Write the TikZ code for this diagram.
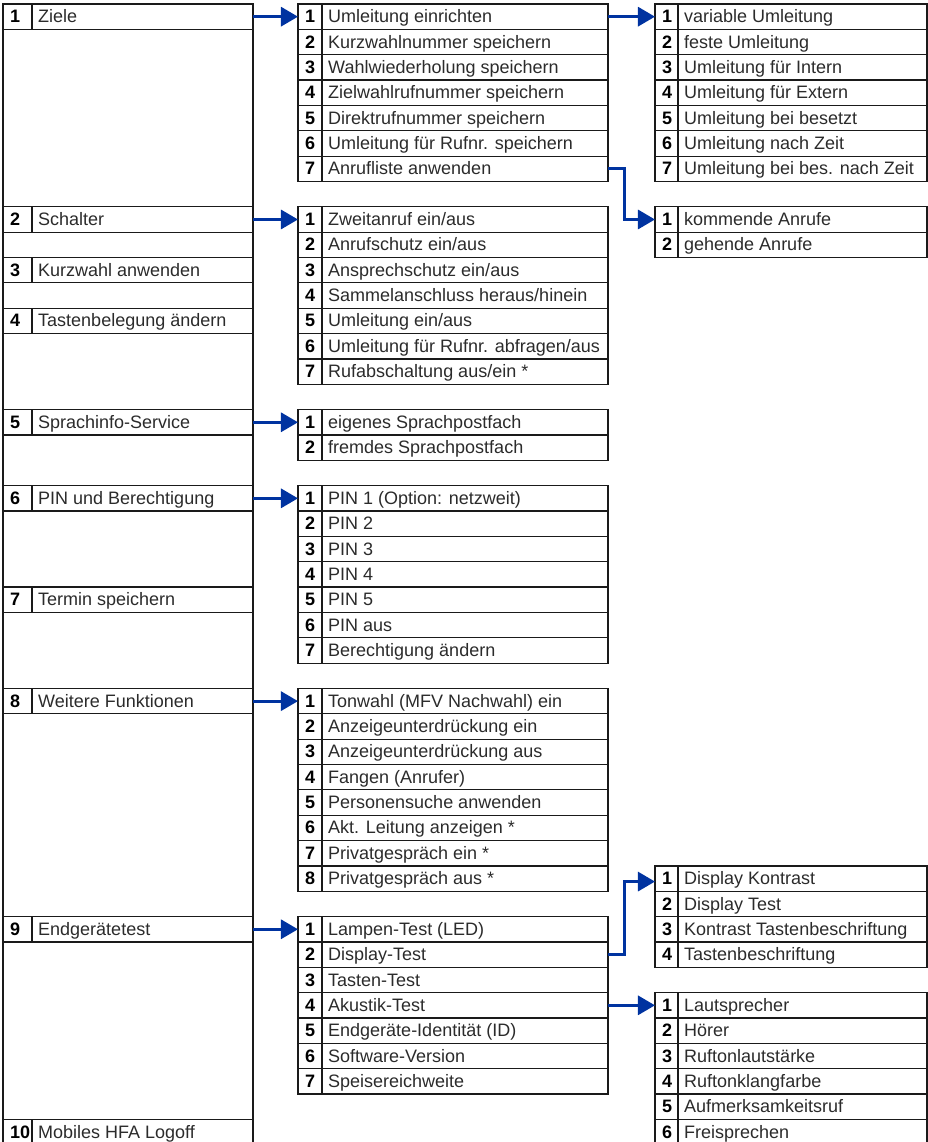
\documentclass[tikz,border=0pt]{standalone}
\usepackage{fontspec}
\setmainfont{Liberation Sans}
\usetikzlibrary{arrows.meta}
\definecolor{ink}  {HTML}{1A1A1A}
\definecolor{txtc} {HTML}{2B2B2B}
\definecolor{cLink}{HTML}{0033A0}
\newcommand{\itemfont}{\fontsize{18}{21}\selectfont}
% one menu line: name, x left, x divider, x right, row, number, text
\newcommand{\menuitem}[7]{%
  \node[cell,minimum width={(#4-#2)*1pt},anchor=north west] (#1) at (#2,#5) {};%
  \draw[frame] (#3,#5) -- (#3,#5+1);%
  \node[num] (#1-n) at ({#2+7},{#5+0.74}) {#6};%
  \node[txt] (#1-t) at ({#3+6},{#5+0.74}) {#7};%
}

\begin{document}
\begin{tikzpicture}[x=1pt,y=-25.35pt,
    frame/.style={draw=ink,line width=1.2pt},
    cell/.style ={frame,minimum height=25.35pt,inner sep=0pt,outer sep=0pt},
    num/.style  ={anchor=base west,inner sep=0pt,text=black,font=\itemfont\bfseries},
    txt/.style  ={anchor=base west,inner sep=0pt,text=txtc,font=\itemfont},
    link/.style ={draw=cLink,line width=3pt,-{Triangle[length=17pt,width=19pt]}},
  ]

% fixed bounding box -> 928 x 1142
\useasboundingbox (0,-0.158) rectangle (928,44.892);

% ---- main menu -------------------------------------------------------------
\draw[frame] (3,0) rectangle (253,45);
\foreach \r/\n/\t in {0/1/Ziele,8/2/Schalter,10/3/Kurzwahl anwenden,
    12/4/Tastenbelegung ändern,16/5/Sprachinfo-Service,19/6/PIN und Berechtigung,
    23/7/Termin speichern,27/8/Weitere Funktionen,36/9/Endgerätetest,
    44/10/Mobiles HFA Logoff}
  \menuitem{l\n}{3}{32}{253}{\r}{\n}{\t};

% ---- second level ----------------------------------------------------------
\foreach \t [count=\i] in {Umleitung einrichten,Kurzwahlnummer speichern,
    Wahlwiederholung speichern,Zielwahlrufnummer speichern,
    Direktrufnummer speichern,Umleitung für Rufnr. speichern,Anrufliste anwenden}
  \menuitem{ziel\i}{298}{322}{608}{\i-1}{\i}{\t};

\foreach \t [count=\i] in {Zweitanruf ein/aus,Anrufschutz ein/aus,
    Ansprechschutz ein/aus,Sammelanschluss heraus/hinein,Umleitung ein/aus,
    Umleitung für Rufnr. abfragen/aus,Rufabschaltung aus/ein *}
  \menuitem{sch\i}{298}{322}{608}{\i+7}{\i}{\t};

\foreach \t [count=\i] in {eigenes Sprachpostfach,fremdes Sprachpostfach}
  \menuitem{spr\i}{298}{322}{608}{\i+15}{\i}{\t};

\foreach \t [count=\i] in {PIN 1 (Option: netzweit),PIN 2,PIN 3,PIN 4,PIN 5,
    PIN aus,Berechtigung ändern}
  \menuitem{pin\i}{298}{322}{608}{\i+18}{\i}{\t};

\foreach \t [count=\i] in {Tonwahl (MFV Nachwahl) ein,Anzeigeunterdrückung ein,
    Anzeigeunterdrückung aus,Fangen (Anrufer),Personensuche anwenden,
    Akt. Leitung anzeigen *,Privatgespräch ein *,Privatgespräch aus *}
  \menuitem{wf\i}{298}{322}{608}{\i+26}{\i}{\t};

\foreach \t [count=\i] in {Lampen-Test (LED),Display-Test,Tasten-Test,
    Akustik-Test,Endgeräte-Identität (ID),Software-Version,Speisereichweite}
  \menuitem{test\i}{298}{322}{608}{\i+35}{\i}{\t};

% ---- third level -----------------------------------------------------------
\foreach \t [count=\i] in {variable Umleitung,feste Umleitung,
    Umleitung für Intern,Umleitung für Extern,Umleitung bei besetzt,
    Umleitung nach Zeit,Umleitung bei bes. nach Zeit}
  \menuitem{uml\i}{655}{678}{927}{\i-1}{\i}{\t};

\foreach \t [count=\i] in {kommende Anrufe,gehende Anrufe}
  \menuitem{anr\i}{655}{678}{927}{\i+7}{\i}{\t};

\foreach \t [count=\i] in {Display Kontrast,Display Test,
    Kontrast Tastenbeschriftung,Tastenbeschriftung}
  \menuitem{disp\i}{655}{678}{927}{\i+33}{\i}{\t};

\foreach \t [count=\i] in {Lautsprecher,Hörer,Ruftonlautstärke,
    Ruftonklangfarbe,Aufmerksamkeitsruf,Freisprechen}
  \menuitem{akus\i}{655}{678}{927}{\i+38}{\i}{\t};

% ---- links -----------------------------------------------------------------
\draw[link] (l1.east) -- (ziel1.west);
\draw[link] (l2.east) -- (sch1.west);
\draw[link] (l5.east) -- (spr1.west);
\draw[link] (l6.east) -- (pin1.west);
\draw[link] (l8.east) -- (wf1.west);
\draw[link] (l9.east) -- (test1.west);

\draw[link] (ziel1.east) -- (uml1.west);
\draw[link] (ziel7.east) -- ++(17,0) |- (anr1.west);
\draw[link] (test2.east) -- ++(17,0) |- ([yshift=-3pt]disp1.west);
\draw[link] (test4.east) -- (akus1.west);

\end{tikzpicture}
\end{document}
